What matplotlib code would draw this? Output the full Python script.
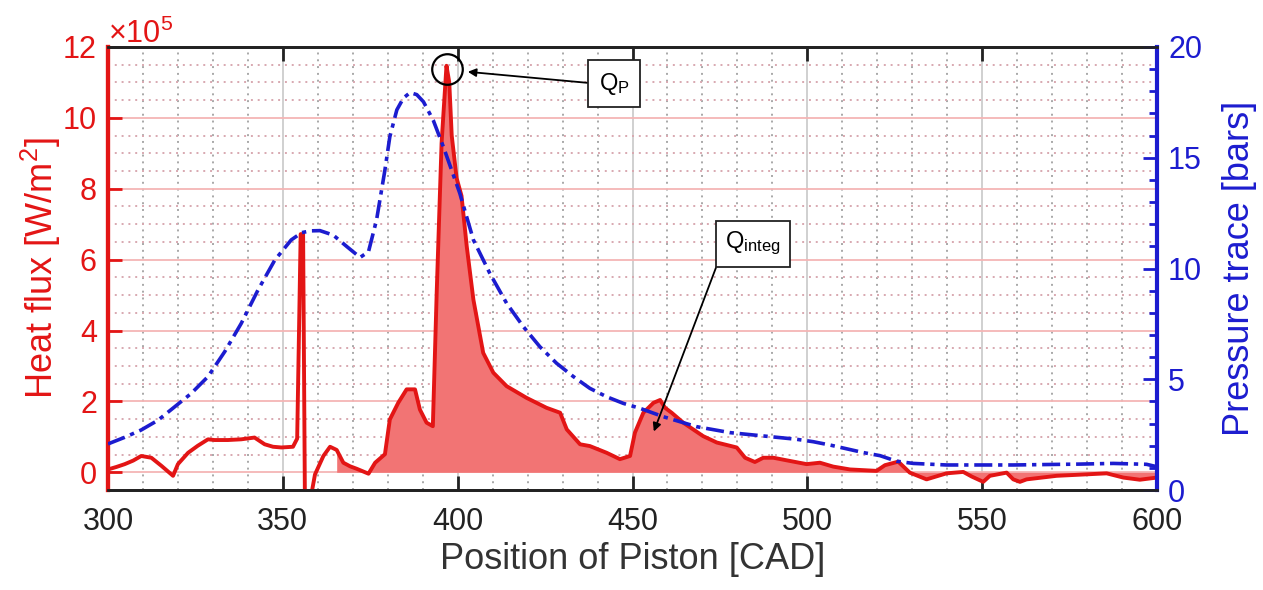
import numpy as np
import matplotlib
matplotlib.use("Agg")
import matplotlib.pyplot as plt
from matplotlib.ticker import MultipleLocator, ScalarFormatter

plt.rcParams['font.family'] = ['Liberation Sans', 'DejaVu Sans']
plt.rcParams['mathtext.fontset'] = 'custom'
plt.rcParams['mathtext.rm'] = 'Liberation Sans'
plt.rcParams['mathtext.it'] = 'Liberation Sans'

# ---------------- data ----------------
# Heat flux (units of 1e5 W/m^2) vs crank angle (CAD)
hf_cad = [300.0, 302.4, 304.8, 307.2, 309.5, 312.4, 315.3, 318.6, 320.0, 322.9,
          325.7, 328.6, 330.5, 334.3, 338.1, 341.9, 344.8, 347.2, 349.6, 352.9,
          354.1, 355.1, 355.8, 356.3, 358.2, 359.2, 361.6, 363.5, 365.4, 367.3,
          369.2, 371.1, 374.5, 376.4, 379.2, 380.6, 383.0, 385.4, 387.8, 389.2,
          391.1, 392.9, 394.0, 395.4, 396.8, 397.6, 398.3, 399.7, 401.1, 402.6,
          404.5, 407.3, 410.2, 414.0, 419.7, 425.4, 429.3, 431.2, 435.0, 437.8,
          442.6, 446.4, 449.3, 450.7, 453.1, 456.0, 457.9, 459.3, 461.2, 464.5,
          470.2, 474.1, 479.8, 482.2, 485.0, 487.4, 490.3, 495.0, 499.8, 503.6,
          507.4, 512.2, 519.8, 522.2, 526.0, 529.3, 534.1, 539.8, 544.6, 547.0,
          550.3, 552.2, 557.0, 558.9, 560.8, 562.7, 571.3, 585.6, 590.4, 595.1,
          599.9]
hf_e5 = [0.08, 0.15, 0.23, 0.33, 0.46, 0.41, 0.18, -0.10, 0.23, 0.55,
         0.75, 0.93, 0.91, 0.91, 0.93, 0.98, 0.79, 0.72, 0.70, 0.72,
         0.95, 6.72, 6.72, -0.60, -0.60, -0.06, 0.46, 0.72, 0.63, 0.27,
         0.17, 0.10, -0.04, 0.27, 0.51, 1.49, 1.96, 2.34, 2.34, 1.77,
         1.40, 1.30, 5.06, 9.29, 11.47, 11.00, 9.50, 8.30, 7.80, 6.37,
         4.87, 3.37, 2.81, 2.43, 2.10, 1.82, 1.68, 1.21, 0.79, 0.74,
         0.55, 0.37, 0.46, 1.12, 1.68, 1.96, 2.04, 1.82, 1.68, 1.40,
         1.02, 0.84, 0.70, 0.41, 0.29, 0.41, 0.41, 0.32, 0.23, 0.27,
         0.16, 0.08, 0.04, 0.20, 0.30, -0.01, -0.20, -0.03, 0.01, -0.12,
         -0.27, -0.10, -0.01, -0.20, -0.27, -0.20, -0.10, -0.03, -0.15, -0.21,
         -0.15]

# Pressure trace (bar) vs crank angle (CAD)
p_cad = [300.0, 304.8, 309.5, 314.3, 319.1, 323.8, 328.6, 333.4, 338.1, 342.9,
         347.7, 352.4, 355.4, 358.0, 360.6, 364.4, 368.3, 372.1, 374.5, 376.8,
         379.2, 380.6, 382.6, 384.5, 386.4, 388.3, 390.2, 393.0, 395.9, 400.6,
         404.5, 409.2, 414.0, 418.8, 423.5, 428.3, 433.1, 437.8, 442.6, 447.4,
         452.1, 458.8, 468.3, 477.9, 487.4, 496.9, 501.7, 506.5, 516.0, 520.8,
         525.5, 530.3, 539.8, 558.9, 578.0, 587.5, 597.0, 600.0]
p_bar = [2.08, 2.38, 2.71, 3.15, 3.76, 4.36, 5.12, 6.25, 7.52, 9.03,
         10.38, 11.29, 11.62, 11.70, 11.71, 11.51, 10.99, 10.50, 10.76, 12.19,
         14.45, 15.95, 17.16, 17.70, 17.94, 17.85, 17.53, 16.70, 15.50, 13.40,
         11.29, 9.78, 8.43, 7.37, 6.47, 5.72, 5.12, 4.59, 4.21, 3.91,
         3.69, 3.31, 2.86, 2.59, 2.44, 2.29, 2.18, 2.03, 1.69, 1.55,
         1.30, 1.20, 1.13, 1.13, 1.17, 1.20, 1.16, 1.05]

fill_start_cad = 365.4
x_ticks = [300, 350, 400, 450, 500, 550, 600]
hf_ticks_e5 = [0, 2, 4, 6, 8, 10, 12]
p_ticks = [0, 5, 10, 15, 20]


class FixedOrderFormatter(ScalarFormatter):
    def __init__(self, order):
        super().__init__(useMathText=True)
        self._fixed_order = order

    def _set_order_of_magnitude(self):
        self.orderOfMagnitude = self._fixed_order

    def _set_format(self):
        self.format = '%d'


# ---------------- figure ----------------
fig = plt.figure(figsize=(12.63, 5.90), dpi=100)
ax = fig.add_axes([108/1263, 1-490/590, (1157-108)/1263, (490-47)/590])
ax2 = ax.twinx()

x = np.array(hf_cad)
y = np.array(hf_e5) * 1e5

red = '#e31515'
blue = '#1c1ccf'

mask = x >= fill_start_cad
ax.fill_between(x[mask], y[mask], 0, color='#f27474', linewidth=0, zorder=2)
ax.plot(x, y, color=red, lw=2.8, zorder=3, solid_joinstyle='round')

ax2.plot(p_cad, p_bar, color=blue, lw=2.6, linestyle=(0, (5, 1.6, 1.2, 1.6)), zorder=3)

# limits / ticks
ax.set_xlim(300, 600)
ax.set_ylim(-0.5e5, 12e5)
ax2.set_ylim(0, 20)
ax.set_xticks(x_ticks)
ax.set_yticks(np.array(hf_ticks_e5) * 1e5)
ax2.set_yticks(p_ticks)
ax.xaxis.set_minor_locator(MultipleLocator(10))
ax.yaxis.set_minor_locator(MultipleLocator(0.5e5))
ax2.yaxis.set_minor_locator(MultipleLocator(1))

ax.yaxis.set_major_formatter(FixedOrderFormatter(5))
ax.yaxis.get_offset_text().set_fontsize(22)
ax.yaxis.get_offset_text().set_color(red)

# grid
ax.grid(True, which='major', axis='x', color='#c8c8c8', lw=1.2, linestyle='-', zorder=0)
ax.grid(True, which='minor', axis='x', color='#a8a8a8', lw=1.4, linestyle=(0, (1, 2.5)), zorder=0)
ax.grid(True, which='major', axis='y', color='#f5b5b5', lw=1.3, linestyle='-', zorder=0)
ax.grid(True, which='minor', axis='y', color='#d8a8b0', lw=1.4, linestyle=(0, (1, 2.5)), zorder=0)
ax.set_axisbelow(True)

# ticks styling
ax.tick_params(axis='x', which='major', direction='in', length=10, width=2, top=True,
               labelsize=22, colors='#222222', pad=12)
ax.tick_params(axis='x', which='minor', length=0, top=True)
ax.tick_params(axis='y', which='major', direction='in', length=10, width=2,
               labelsize=22, colors=red, pad=8)
ax.tick_params(axis='y', which='minor', length=0)
ax2.tick_params(axis='y', which='major', direction='in', length=10, width=2,
                labelsize=22, colors=blue, pad=8)
ax2.tick_params(axis='y', which='minor', direction='in', length=6, width=2, colors=blue)

for a in (ax, ax2):
    a.spines['top'].set_color('#222222')
    a.spines['bottom'].set_color('#222222')
    a.spines['top'].set_linewidth(2)
    a.spines['bottom'].set_linewidth(2)
ax2.spines['left'].set_color(red)
ax2.spines['left'].set_linewidth(3)
ax2.spines['right'].set_color(blue)
ax2.spines['right'].set_linewidth(3)
ax.spines['left'].set_color(red)
ax.spines['left'].set_linewidth(3)

ax.set_xlabel('Position of Piston [CAD]', fontsize=26, color='#333333', labelpad=4)
ax.set_ylabel(r'Heat flux [W/m$^2$]', fontsize=26, color=red, labelpad=0)
ax2.set_ylabel('Pressure trace [bars]', fontsize=26, color=blue, labelpad=14)

# annotations
qp_circle = (396.9, 11.38e5)
ax.plot([qp_circle[0]], [qp_circle[1]], marker='o', ms=22, mfc='none', mec='black',
        mew=1.6, zorder=5)
ax.annotate(r'Q$_{\mathrm{P}}$', xy=(402.9, 11.3e5), xytext=(444.7, 10.96e5),
            fontsize=17, ha='center', va='center', zorder=6,
            bbox=dict(boxstyle='square,pad=0.45', fc='white', ec='#222222', lw=1.3),
            arrowprops=dict(arrowstyle='-|>', color='black', lw=1.3, mutation_scale=12,
                            shrinkA=0, shrinkB=0, relpos=(0, 0.5)))
ax.annotate(r'Q$_{\mathrm{integ}}$', xy=(456.1, 1.15e5), xytext=(484.4, 6.45e5),
            fontsize=17, ha='center', va='center', zorder=6,
            bbox=dict(boxstyle='square,pad=0.4', fc='white', ec='#222222', lw=1.3),
            arrowprops=dict(arrowstyle='-|>', color='black', lw=1.3, mutation_scale=12,
                            shrinkA=0, shrinkB=0, relpos=(0, 0.5)))

fig.savefig('out.png', dpi=100)
